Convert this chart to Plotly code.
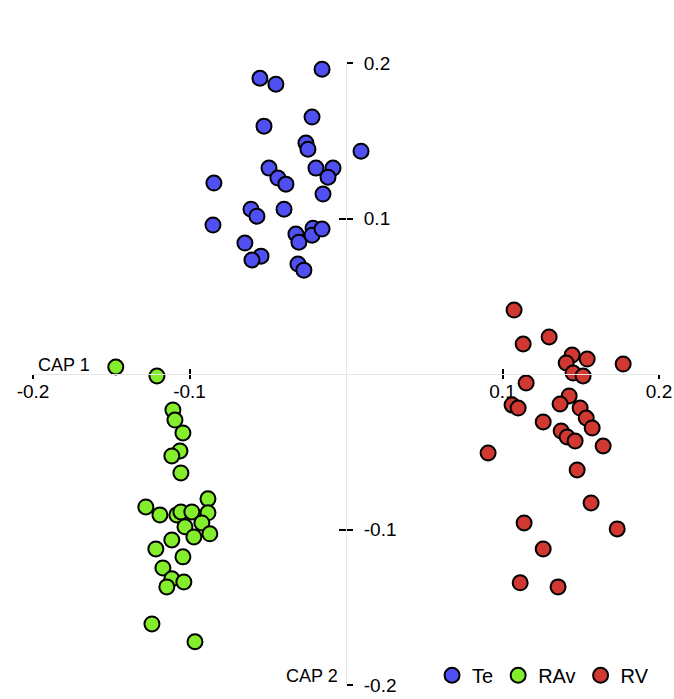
import plotly.graph_objects as go

# ---- data ----
te_x = [-0.0153, -0.0550, -0.0448, -0.0217, -0.0524, -0.0256, -0.0243, 0.0096, -0.0492, -0.0192,
        -0.0083, -0.0435, -0.0384, -0.0115, -0.0147, -0.0844, -0.0607, -0.0569, -0.0396, -0.0850,
        -0.0320, -0.0301, -0.0211, -0.0217, -0.0153, -0.0646, -0.0543, -0.0601, -0.0307, -0.0269]
te_y = [0.1960, 0.1902, 0.1864, 0.1652, 0.1594, 0.1485, 0.1446, 0.1433, 0.1324, 0.1324,
        0.1324, 0.1260, 0.1221, 0.1266, 0.1157, 0.1228, 0.1060, 0.1015, 0.1060, 0.0958,
        0.0900, 0.0848, 0.0938, 0.0893, 0.0932, 0.0842, 0.0758, 0.0733, 0.0707, 0.0668]

rav_x = [-0.1471, -0.1208, -0.1106, -0.1093, -0.1042, -0.1061, -0.1113, -0.1055, -0.1279, -0.1189,
         -0.1081, -0.1055, -0.0985, -0.0882, -0.0882, -0.0921, -0.1029, -0.0972, -0.0870, -0.1113,
         -0.1215, -0.1042, -0.1170, -0.1113, -0.1036, -0.1145, -0.1240, -0.0965]
rav_y = [0.0045, -0.0013, -0.0231, -0.0296, -0.0379, -0.0495, -0.0527, -0.0636, -0.0855, -0.0906,
         -0.0906, -0.0887, -0.0887, -0.0803, -0.0893, -0.0958, -0.0983, -0.1048, -0.1028, -0.1067,
         -0.1125, -0.1176, -0.1247, -0.1317, -0.1337, -0.1369, -0.1607, -0.1722]

rv_x = [0.1074, 0.1298, 0.1132, 0.1445, 0.1541, 0.1407, 0.1771, 0.1451, 0.1515, 0.1151,
        0.1061, 0.1100, 0.1426, 0.1368, 0.1496, 0.1535, 0.1573, 0.1260, 0.1375, 0.1413,
        0.1464, 0.1643, 0.0908, 0.1477, 0.1566, 0.1138, 0.1733, 0.1260, 0.1113, 0.1355]
rv_y = [0.0411, 0.0238, 0.0193, 0.0122, 0.0096, 0.0071, 0.0064, 0.0006, -0.0013, -0.0058,
        -0.0199, -0.0219, -0.0141, -0.0193, -0.0219, -0.0283, -0.0347, -0.0308, -0.0366, -0.0405,
        -0.0431, -0.0463, -0.0508, -0.0617, -0.0829, -0.0958, -0.0996, -0.1125, -0.1343, -0.1369]

x_ticks = [-0.2, -0.1, 0.1, 0.2]
x_tick_labels = ["-0.2", "-0.1", "0.1", "0.2"]
y_ticks = [-0.2, -0.1, 0.1, 0.2]
y_tick_labels = ["-0.2", "-0.1", "0.1", "0.2"]

FONT = "Liberation Sans, Arial, Helvetica, sans-serif"

fig = go.Figure()
for name, xs, ys, col in [("Te", te_x, te_y, "#4f4ff2"),
                          ("RAv", rav_x, rav_y, "#84ee2c"),
                          ("RV", rv_x, rv_y, "#d13831")]:
    fig.add_trace(go.Scatter(
        x=xs, y=ys, mode="markers", name=name, cliponaxis=False,
        marker=dict(size=15, color=col, line=dict(color="black", width=2)),
    ))

# empty trace on overlay axes (to draw the other half of crossing ticks)
fig.add_trace(go.Scatter(x=[], y=[], xaxis="x2", yaxis="y2", showlegend=False, hoverinfo="skip"))

axis_common = dict(showgrid=False, zeroline=False, automargin=False)
fig.update_layout(
    width=674, height=699,
    margin=dict(l=33, r=15, t=63, b=14, autoexpand=False),
    plot_bgcolor="white", paper_bgcolor="white",
    font=dict(family=FONT, size=18, color="black"),
    xaxis=dict(range=[-0.2, 0.2], anchor="free", position=0.5, showline=True,
               linecolor="#e6e6e6", linewidth=1,
               tickmode="array", tickvals=x_ticks, ticktext=x_tick_labels,
               ticks="outside", ticklen=4, tickwidth=1.5, tickcolor="black",
               ticklabelstandoff=-4, tickfont=dict(size=19), **axis_common),
    yaxis=dict(range=[-0.2, 0.2], anchor="free", position=0.5, side="right", showline=True,
               linecolor="#e6e6e6", linewidth=1,
               tickmode="array", tickvals=y_ticks, ticktext=y_tick_labels,
               ticks="outside", ticklen=6, tickwidth=2, tickcolor="black",
               ticklabelstandoff=7, tickfont=dict(size=19), **axis_common),
    xaxis2=dict(matches="x", overlaying="x", anchor="free", position=0.5, showline=False,
                tickmode="array", tickvals=x_ticks, showticklabels=False,
                ticks="inside", ticklen=5, tickwidth=1.5, tickcolor="black", **axis_common),
    yaxis2=dict(matches="y", overlaying="y", anchor="free", position=0.5, side="right", showline=False,
                tickmode="array", tickvals=y_ticks, showticklabels=False,
                ticks="inside", ticklen=7, tickwidth=2, tickcolor="black", **axis_common),
    legend=dict(orientation="h", xref="container", yref="container",
                x=0.641, y=0.034, xanchor="left", yanchor="middle",
                font=dict(size=20), bgcolor="rgba(0,0,0,0)", itemwidth=30),
    annotations=[
        dict(x=-0.2, y=0, xref="x", yref="y", text="CAP 1", showarrow=False,
             xanchor="left", yanchor="bottom", xshift=3, yshift=-3, font=dict(size=18)),
        dict(x=0, y=-0.2, xref="x", yref="y", text="CAP 2", showarrow=False,
             xanchor="right", yanchor="bottom", xshift=-6, yshift=-3, font=dict(size=18)),
    ],
)

fig.write_html(
    "out.html",
    config={"responsive": False, "displayModeBar": False},
    post_script="document.documentElement.style.overflow='hidden';"
                "document.body.style.margin='0';document.body.style.overflow='hidden';",
)
